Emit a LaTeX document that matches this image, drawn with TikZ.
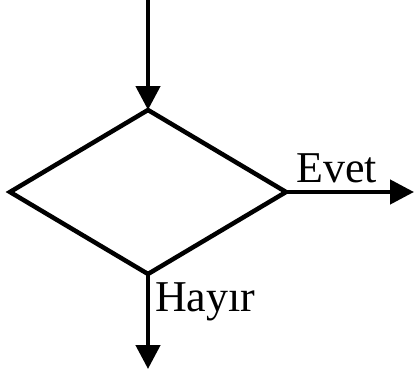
\documentclass[tikz,border=0pt]{standalone}
\usepackage{fontspec}
\setmainfont{Liberation Serif}
\usetikzlibrary{shapes.geometric,arrows.meta}
\tikzset{
  decision/.style={diamond,draw,line width=4.5pt,minimum width=276pt,minimum height=164pt,inner sep=0pt,outer sep=0pt},
  flow/.style={line width=4.5pt,-{Triangle[length=24pt,width=24pt]}},
  lbl/.style={font=\fontsize{44}{48}\selectfont,inner sep=0pt,anchor=base west}
}
\begin{document}
\begin{tikzpicture}[x=1pt,y=-1pt]
\useasboundingbox (0,0) rectangle (415,372);
\node[decision] (d) at (148,192) {};
\coordinate (in) at (148,0);
\coordinate (yes) at (414,192);
\coordinate (no) at (148,369);
\draw[flow] (in) -- (d.north);
\draw[flow] (d.east) -- (yes);
\draw[flow] (d.south) -- (no);
\node[lbl] (evet) at (296,182) {Evet};
\node[lbl] (hayir) at (155,311) {Hayır};
\end{tikzpicture}
\end{document}
